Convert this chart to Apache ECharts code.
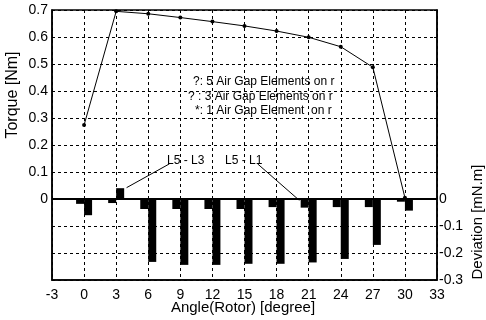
<!DOCTYPE html>
<html>
<head>
<meta charset="utf-8">
<script src="https://cdn.jsdelivr.net/npm/echarts@6/dist/echarts.min.js"></script>
<style>html,body{margin:0;padding:0;background:#fff;}#c{width:486px;height:320px;}</style>
</head>
<body>
<div id="c"></div>
<script>
const angles = [0, 3, 6, 9, 12, 15, 18, 21, 24, 27, 30];
const torque = [0.274, 0.695, 0.686, 0.672, 0.657, 0.641, 0.622, 0.599, 0.564, 0.488, 0.005];
const devL5L1 = [-0.018, -0.015, -0.037, -0.037, -0.037, -0.037, -0.030, -0.032, -0.030, -0.030, -0.010];
const devL5L3 = [-0.060, 0.040, -0.233, -0.244, -0.244, -0.240, -0.240, -0.235, -0.222, -0.170, -0.043];
const legendLines = ["?: 5 Air Gap Elements on r", "? : 3 Air Gap Elements on r", "*: 1 Air Gap Element  on r"];
const xTicks = { min: -3, max: 33, interval: 3 };

const font = '"Liberation Sans", Arial, sans-serif';
const pair = (xs, ys) => xs.map((x, i) => [x, ys[i]]);

const chart = echarts.init(document.getElementById('c'));
chart.setOption({
  animation: false,
  backgroundColor: '#fff',
  grid: { left: 52, right: 49, top: 10, bottom: 40, show: true, borderColor: '#000', borderWidth: 1.5, backgroundColor: 'transparent' },
  xAxis: {
    type: 'value', min: xTicks.min, max: xTicks.max, interval: xTicks.interval,
    axisLine: { show: true, onZero: false, lineStyle: { color: '#000', width: 1.5 } },
    axisTick: { show: false },
    axisLabel: { color: '#000', fontSize: 14, fontFamily: font, margin: 8 },
    splitLine: { show: true, lineStyle: { color: '#000', type: [3, 3], width: 1 } }
  },
  yAxis: [
    {
      type: 'value', min: -0.3, max: 0.7, interval: 0.1,
      axisLine: { show: true, onZero: false, lineStyle: { color: '#000', width: 1.5 } },
      axisTick: { show: true, inside: true, length: 3, lineStyle: { color: '#000' } },
      axisLabel: { color: '#000', fontSize: 14, fontFamily: font, margin: 4,
        formatter: v => { const r = Math.round(v * 10) / 10; return r < 0 ? '' : (r === 0 ? '0' : r.toFixed(1)); } },
      splitLine: { show: true, lineStyle: { color: '#000', type: [3, 3], width: 1 } }
    },
    {
      type: 'value', min: -0.3, max: 0.7, interval: 0.1, position: 'right',
      axisLine: { show: true, onZero: false, lineStyle: { color: '#000', width: 1.5 } },
      axisTick: { show: true, inside: true, length: 3, lineStyle: { color: '#000' } },
      axisLabel: { color: '#000', fontSize: 14, fontFamily: font, margin: 2,
        formatter: v => { const r = Math.round(v * 10) / 10; return r > 0 ? '' : (r === 0 ? '0' : r.toFixed(1)); } },
      splitLine: { show: false }
    }
  ],
  series: [
    {
      name: 'L5 - L1', type: 'bar', yAxisIndex: 1, data: pair(angles, devL5L1),
      barWidth: 8, barGap: '0%', itemStyle: { color: '#000' }, silent: true,
      markLine: {
        silent: true, symbol: 'none', animation: false,
        lineStyle: { color: '#000', width: 1, type: 'solid' },
        label: { show: false },
        data: [
          [{ coord: [16.6, 0.13] }, { coord: [20.5, -0.005] }]
        ]
      }
    },
    {
      name: 'L5 - L3', type: 'bar', yAxisIndex: 1, data: pair(angles, devL5L3),
      barWidth: 8, barGap: '0%', itemStyle: { color: '#000' }, silent: true,
      markLine: {
        silent: true, symbol: 'none', animation: false,
        lineStyle: { color: '#000', width: 1, type: 'solid' },
        label: { show: false },
        data: [
          [{ coord: [3.6, 0.042] }, { coord: [7.6, 0.13] }]
        ]
      }
    },
    {
      name: 'Zero', type: 'line', yAxisIndex: 1, data: [], silent: true,
      markLine: {
        silent: true, symbol: 'none', animation: false,
        lineStyle: { color: '#000', width: 2, type: 'solid' },
        label: { show: false },
        data: [[{ coord: [xTicks.min, 0] }, { coord: [xTicks.max, 0] }]]
      }
    },
    {
      name: 'Torque', type: 'line', yAxisIndex: 0, data: pair(angles, torque),
      symbol: 'circle', symbolSize: 4, z: 5,
      lineStyle: { color: '#000', width: 1 }, itemStyle: { color: '#000' }
    }
  ],
  graphic: [
    { type: 'text', x: 13, y: 95, rotation: Math.PI / 2, style: { text: 'Torque [Nm]', fill: '#000', font: '16px ' + font, align: 'center', verticalAlign: 'middle' } },
    { type: 'text', x: 478, y: 222, rotation: Math.PI / 2, style: { text: 'Deviation [mN.m]', fill: '#000', font: '15px ' + font, align: 'center', verticalAlign: 'middle' } },
    { type: 'text', x: 243, y: 308, style: { text: 'Angle(Rotor) [degree]', fill: '#000', font: '15px ' + font, align: 'center', verticalAlign: 'middle' } },
    { type: 'text', x: 193, y: 82, style: { text: legendLines[0], fill: '#000', font: '12px ' + font, verticalAlign: 'middle' } },
    { type: 'text', x: 188, y: 97, style: { text: legendLines[1], fill: '#000', font: '12px ' + font, verticalAlign: 'middle' } },
    { type: 'text', x: 195, y: 111, style: { text: legendLines[2], fill: '#000', font: '12px ' + font, verticalAlign: 'middle' } },
    { type: 'text', x: 167, y: 161, style: { text: 'L5 - L3', fill: '#000', font: '12px ' + font, verticalAlign: 'middle' } },
    { type: 'text', x: 225, y: 161, style: { text: 'L5 - L1', fill: '#000', font: '12px ' + font, verticalAlign: 'middle' } }
  ]
});
</script>
</body>
</html>
